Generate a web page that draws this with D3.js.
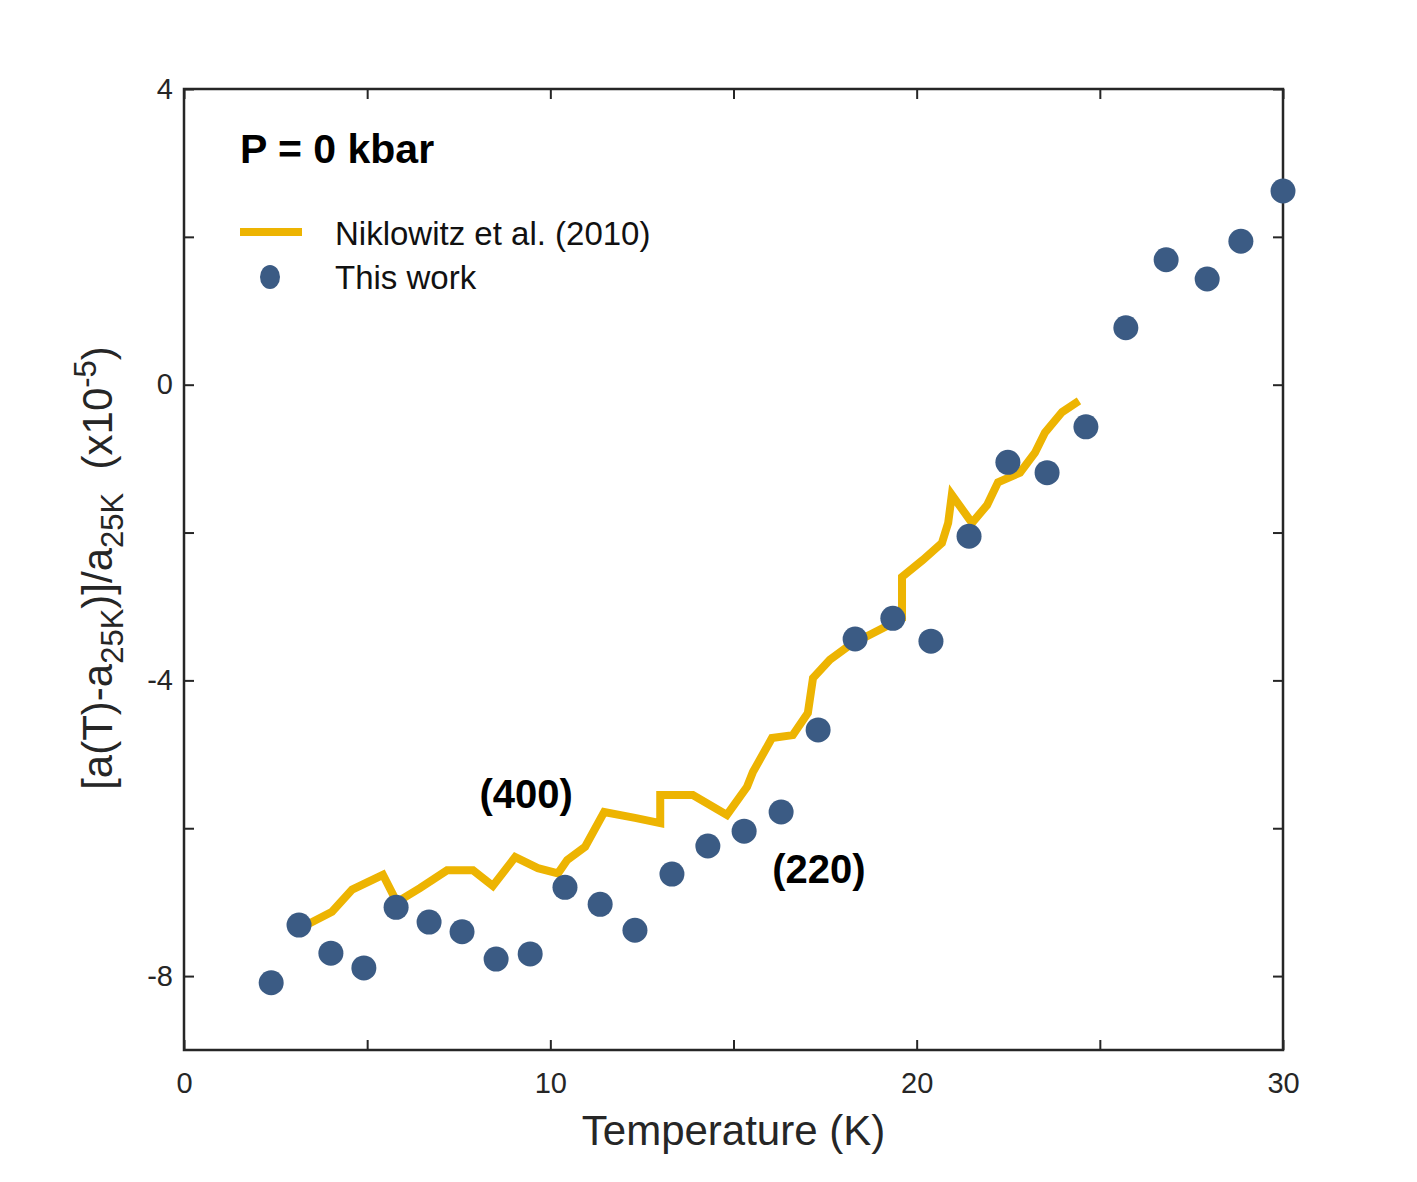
<!DOCTYPE html>
<html>
<head>
<meta charset="utf-8">
<script src="https://cdn.jsdelivr.net/npm/d3@7"></script>
<style>
  body { margin: 0; background: #fff; }
  svg { font-family: "Liberation Sans", Arial, sans-serif; }
</style>
</head>
<body>
<div id="chart"></div>
<script>
// This work (points)
var workT = [2.38, 3.14, 4.01, 4.91, 5.79, 6.69, 7.59, 8.52, 9.45, 10.40, 11.36, 12.31, 13.32, 14.30, 15.29,
  16.30, 17.31, 18.32, 19.35, 20.39, 21.43, 22.49, 23.56, 24.62, 25.71, 26.81, 27.93, 28.85, 30.0]
var workA = [-8.09, -7.31, -7.69, -7.89, -7.07, -7.27, -7.40, -7.77, -7.70, -6.80, -7.03, -7.38, -6.62, -6.24, -6.04,
  -5.78, -4.67, -3.44, -3.16, -3.47, -2.05, -1.05, -1.19, -0.57, 0.77, 1.69, 1.43, 1.94, 2.62]

// Niklowitz et al. (2010) (line)
var nikT = [3.30, 4.04, 4.59, 5.43, 5.81, 6.44, 7.18, 7.89, 8.43, 9.04, 9.66, 10.21, 10.46, 10.95, 11.47,
  12.31, 13.0, 13.0, 13.89, 14.82, 15.37, 15.53, 16.05, 16.62, 17.03, 17.17, 17.63, 18.18, 19.60, 19.60,
  20.17, 20.69, 20.86, 20.96, 21.51, 21.92, 22.22, 22.82, 23.23, 23.50, 23.97, 24.43]
var nikA = [-7.32, -7.13, -6.83, -6.63, -7.00, -6.81, -6.57, -6.57, -6.78, -6.39, -6.54, -6.61, -6.43, -6.25, -5.78,
  -5.86, -5.93, -5.55, -5.55, -5.82, -5.44, -5.24, -4.78, -4.74, -4.44, -3.97, -3.72, -3.52, -3.16, -2.60,
  -2.37, -2.14, -1.87, -1.49, -1.87, -1.63, -1.32, -1.19, -0.92, -0.65, -0.37, -0.22]

var xTicks = [0, 5, 10, 15, 20, 25, 30]
var xLabels = [0, 10, 20, 30]
var yTicks = [4, 2, 0, -2, -4, -6, -8]
var yLabels = [4, 0, -4, -8]

var width = 1417, height = 1182
var margin = {top: 89, right: 134, bottom: 132, left: 184}
var w = width - margin.left - margin.right
var h = height - margin.top - margin.bottom

var lineColor = "#EDB402"
var dotColor = "#3B5B84"
var axisColor = "#262626"

var svg = d3.select("#chart").append("svg")
  .attr("width", width)
  .attr("height", height)

var g = svg.append("g")
  .attr("transform", "translate(" + margin.left + "," + margin.top + ")")

var x = d3.scaleLinear().domain([0, 30]).range([0, w])
var y = d3.scaleLinear().domain([-9, 4]).range([h, 0])

// axes, ticks pointing inward on all four sides
var tickLen = 10
function styleAxis(sel) {
  sel.select(".domain").remove()
  sel.selectAll("line").attr("stroke", axisColor).attr("stroke-width", 2)
  sel.selectAll("text").attr("fill", axisColor).attr("font-size", 29)
}

g.append("g").attr("transform", "translate(0," + h + ")")
  .call(d3.axisBottom(x).tickValues(xTicks).tickSize(-tickLen).tickPadding(22)
    .tickFormat(function(d) { return xLabels.indexOf(d) >= 0 ? d : "" }))
  .call(styleAxis)

g.append("g")
  .call(d3.axisTop(x).tickValues(xTicks).tickSize(-tickLen).tickFormat(""))
  .call(styleAxis)

g.append("g")
  .call(d3.axisLeft(y).tickValues(yTicks).tickSize(-tickLen).tickPadding(11)
    .tickFormat(function(d) { return yLabels.indexOf(d) >= 0 ? d : "" }))
  .call(styleAxis)

g.append("g").attr("transform", "translate(" + w + ",0)")
  .call(d3.axisRight(y).tickValues(yTicks).tickSize(-tickLen).tickFormat(""))
  .call(styleAxis)

g.append("rect")
  .attr("width", w).attr("height", h)
  .attr("fill", "none")
  .attr("stroke", axisColor)
  .attr("stroke-width", 2.5)

// data
var nikData = nikT.map(function(t, i) { return {t: t, a: nikA[i]} })
var workData = workT.map(function(t, i) { return {t: t, a: workA[i]} })

var line = d3.line()
  .x(function(d) { return x(d.t) })
  .y(function(d) { return y(d.a) })

g.append("path")
  .datum(nikData)
  .attr("d", line)
  .attr("fill", "none")
  .attr("stroke", lineColor)
  .attr("stroke-width", 8)
  .attr("stroke-linejoin", "miter")

g.selectAll(".dot")
  .data(workData)
  .enter().append("circle")
  .attr("class", "dot")
  .attr("cx", function(d) { return x(d.t) })
  .attr("cy", function(d) { return y(d.a) })
  .attr("r", 12.5)
  .attr("fill", dotColor)

// annotations
g.append("text")
  .attr("x", x(9.34)).attr("y", y(-5.53)).attr("dy", "0.36em")
  .attr("text-anchor", "middle")
  .attr("font-size", 40).attr("font-weight", "bold")
  .text("(400)")

g.append("text")
  .attr("x", x(17.33)).attr("y", y(-6.54)).attr("dy", "0.36em")
  .attr("text-anchor", "middle")
  .attr("font-size", 40).attr("font-weight", "bold")
  .text("(220)")

g.append("text")
  .attr("x", 56).attr("y", 74)
  .attr("font-size", 41).attr("font-weight", "bold")
  .text("P = 0 kbar")

// legend
var leg = g.append("g").attr("transform", "translate(56,143)")
leg.append("line")
  .attr("x1", 0).attr("x2", 62).attr("y1", 0).attr("y2", 0)
  .attr("stroke", lineColor).attr("stroke-width", 8)
leg.append("text")
  .attr("x", 95).attr("y", 1).attr("dy", "0.35em")
  .attr("font-size", 33).attr("fill", "#111")
  .text("Niklowitz et al. (2010)")
leg.append("ellipse")
  .attr("cx", 30).attr("cy", 45).attr("rx", 10).attr("ry", 12)
  .attr("fill", dotColor)
leg.append("text")
  .attr("x", 95).attr("y", 45).attr("dy", "0.35em")
  .attr("font-size", 33).attr("fill", "#111")
  .text("This work")

// axis titles
svg.append("text")
  .attr("x", margin.left + w / 2).attr("y", 1145)
  .attr("text-anchor", "middle")
  .attr("font-size", 42).attr("fill", axisColor)
  .text("Temperature (K)")

var yt = svg.append("text")
  .attr("transform", "translate(112,568) rotate(-90)")
  .attr("text-anchor", "middle")
  .attr("font-size", 42).attr("fill", axisColor)
yt.append("tspan").text("[a(T)-a")
yt.append("tspan").attr("font-size", 31).attr("dy", 11).text("25K")
yt.append("tspan").attr("dy", -11).text(")]/a")
yt.append("tspan").attr("font-size", 31).attr("dy", 11).text("25K")
yt.append("tspan").attr("dy", -11).text("\u00a0\u00a0(x10")
yt.append("tspan").attr("font-size", 31).attr("dy", -16).text("-5")
yt.append("tspan").attr("dy", 16).text(")")
</script>
</body>
</html>
